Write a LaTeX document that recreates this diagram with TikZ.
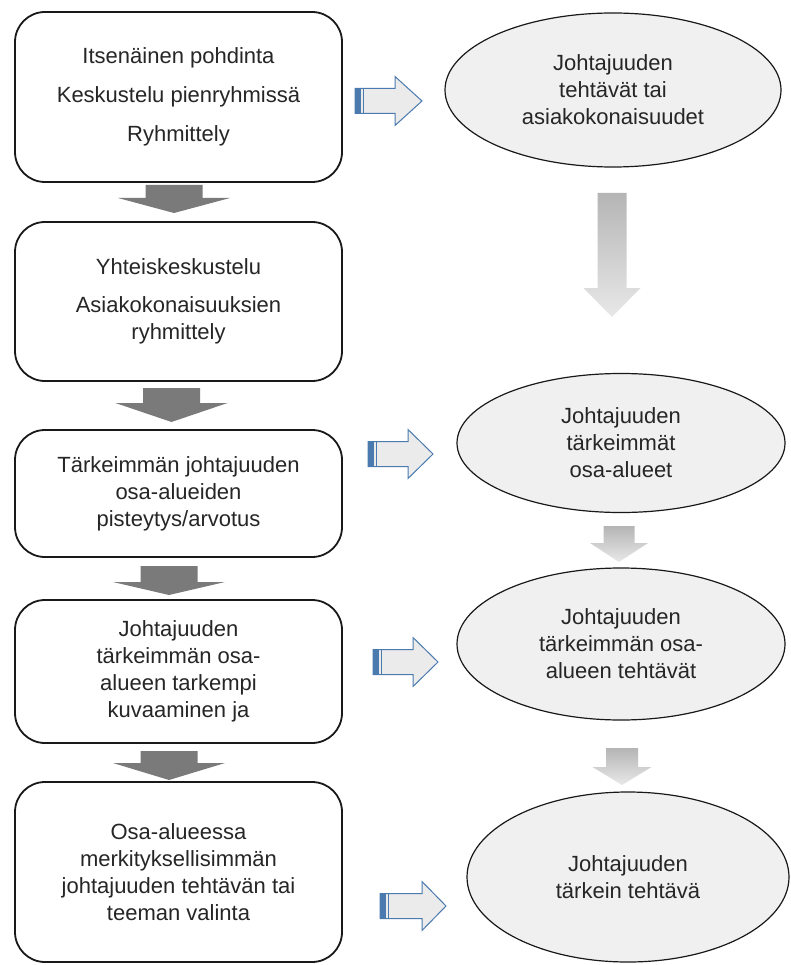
\documentclass[tikz,border=0pt]{standalone}
\usepackage{fontspec}
\setmainfont{Liberation Sans}
\usetikzlibrary{shapes.geometric}
\definecolor{txt}{HTML}{262626}
\definecolor{darr}{HTML}{7A7A7A}
\definecolor{barr}{HTML}{4A7AAE}
\definecolor{bfill}{HTML}{EBEBEB}
\definecolor{efill}{HTML}{F0F0F0}
\definecolor{gtop}{HTML}{B5B5B5}
\definecolor{gbot}{HTML}{E8E8E8}
\newcommand{\dkarrowshape}[4]{% cx, top, headY, tip
  \fill[darr] (#1-28.5,#2) -- (#1+28.5,#2) -- (#1+28.5,#3) -- (#1+56,#3) -- (#1,#4) -- (#1-56,#3) -- (#1-28.5,#3) -- cycle;}
\newcommand{\ltarrowshape}[6]{% cx, shafthalf, headhalf, top, headY, tip
  \shade[top color=gtop,bottom color=gbot] (#1-#2,#4) -- (#1+#2,#4) -- (#1+#2,#5) -- (#1+#3,#5) -- (#1,#6) -- (#1-#3,#5) -- (#1-#2,#5) -- cycle;}
\newcommand{\blarrowshape}[4]{% left, cy, headX, tip
  \draw[barr,fill=bfill,line width=1pt,line join=miter] (#1,#2-12.5) -- (#3,#2-12.5) -- (#3,#2-24.5) -- (#4,#2) -- (#3,#2+24.5) -- (#3,#2+12.5) -- (#1,#2+12.5) -- cycle;
  \fill[barr] (#1,#2-12.5) rectangle (#1+6,#2+12.5);
  \draw[barr,line width=0.8pt] (#1+8.5,#2-12.5) -- (#1+8.5,#2+12.5);}
\begin{document}
\begin{tikzpicture}[x=1pt,y=-1pt,
  stepbox/.style={draw=black!90,line width=1.8pt,rounded corners=30pt,fill=white,
    minimum width=327pt,align=center,inner sep=0pt,text=txt,
    font=\fontsize{22}{27}\selectfont},
  oval/.style={ellipse,draw=black!90,line width=1.2pt,fill=efill,align=center,
    inner sep=0pt,text=txt,font=\fontsize{22}{27}\selectfont}]
\useasboundingbox (0,0) rectangle (790,965);
\fill[white] (0,0) rectangle (790,965);

% left column boxes
\node[stepbox,minimum height=170pt] (b1) at (178.5,97) {Itsenäinen pohdinta\\[12pt]Keskustelu pienryhmissä\\[12pt]Ryhmittely};
\node[stepbox,minimum height=159pt] (b2) at (178.5,301.5) {Yhteiskeskustelu\\[11pt]Asiakokonaisuuksien\\ryhmittely};
\node[stepbox,minimum height=127pt] (b3) at (178.5,493.5) {Tärkeimmän johtajuuden\\osa-alueiden\\pisteytys/arvotus};
\node[stepbox,minimum height=143pt] (b4) at (178.5,671.5) {Johtajuuden\\tärkeimmän osa-\\alueen tarkempi\\kuvaaminen ja};
\node[stepbox,minimum height=180pt] (b5) at (178.5,872) {Osa-alueessa\\merkityksellisimmän\\johtajuuden tehtävän tai\\teeman valinta};

% right column ellipses
\node[oval,minimum width=336pt,minimum height=154pt] (e1) at (613,90) {Johtajuuden\\tehtävät tai\\asiakokonaisuudet};
\node[oval,minimum width=328pt,minimum height=139pt] (e2) at (621,443) {Johtajuuden\\tärkeimmät\\osa-alueet};
\node[oval,minimum width=328pt,minimum height=152pt] (e3) at (621,644) {Johtajuuden\\tärkeimmän osa-\\alueen tehtävät};
\node[oval,minimum width=322pt,minimum height=170pt] (e4) at (628,877) {Johtajuuden\\tärkein tehtävä};

% dark grey down arrows between boxes
\dkarrowshape{174}{185}{198}{213}
\dkarrowshape{171.5}{388}{403}{422}
\dkarrowshape{169}{566}{582}{595}
\dkarrowshape{169}{751}{763}{780}

% light gradient down arrows between ellipses
\ltarrowshape{612}{14.5}{28.5}{193}{288}{317}
\ltarrowshape{619}{15.5}{29}{526}{543}{562}
\ltarrowshape{622}{16}{29.5}{748}{767}{785}

% blue outlined right arrows
\blarrowshape{355}{101}{395}{422}
\blarrowshape{368}{454}{408}{433}
\blarrowshape{373}{662}{413}{438}
\blarrowshape{380}{906}{422}{446}
\end{tikzpicture}
\end{document}
